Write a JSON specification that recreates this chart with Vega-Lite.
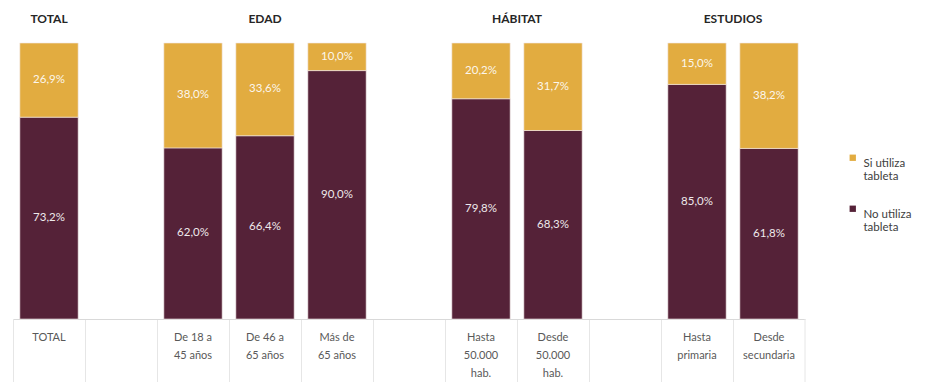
{
  "$schema": "https://vega.github.io/schema/vega-lite/v6.json",
  "width": 792,
  "height": 276,
  "autosize": "none",
  "padding": {"left": 13, "top": 43, "right": 130, "bottom": 63},
  "config": {
    "view": {"stroke": null},
    "font": "Lato"
  },
  "datasets": {
    "bars": [
      {"cat": "TOTAL", "serie": "No utiliza tableta", "pct": 0.732},
      {"cat": "TOTAL", "serie": "Si utiliza tableta", "pct": 0.269},
      {"cat": "De 18 a 45 años", "serie": "No utiliza tableta", "pct": 0.620},
      {"cat": "De 18 a 45 años", "serie": "Si utiliza tableta", "pct": 0.380},
      {"cat": "De 46 a 65 años", "serie": "No utiliza tableta", "pct": 0.664},
      {"cat": "De 46 a 65 años", "serie": "Si utiliza tableta", "pct": 0.336},
      {"cat": "Más de 65 años", "serie": "No utiliza tableta", "pct": 0.900},
      {"cat": "Más de 65 años", "serie": "Si utiliza tableta", "pct": 0.100},
      {"cat": "Hasta 50.000 hab.", "serie": "No utiliza tableta", "pct": 0.798},
      {"cat": "Hasta 50.000 hab.", "serie": "Si utiliza tableta", "pct": 0.202},
      {"cat": "Desde 50.000 hab.", "serie": "No utiliza tableta", "pct": 0.683},
      {"cat": "Desde 50.000 hab.", "serie": "Si utiliza tableta", "pct": 0.317},
      {"cat": "Hasta primaria", "serie": "No utiliza tableta", "pct": 0.850},
      {"cat": "Hasta primaria", "serie": "Si utiliza tableta", "pct": 0.150},
      {"cat": "Desde secundaria", "serie": "No utiliza tableta", "pct": 0.618},
      {"cat": "Desde secundaria", "serie": "Si utiliza tableta", "pct": 0.382}
    ],
    "headers": [
      {"cat": "TOTAL", "header": "TOTAL", "group": "single"},
      {"cat": "De 46 a 65 años", "header": "EDAD", "group": "single"},
      {"cat": "Hasta 50.000 hab.", "header": "HÁBITAT", "group": "pair"},
      {"cat": "Hasta primaria", "header": "ESTUDIOS", "group": "pair"}
    ],
    "edge": [
      {"cat": "Desde secundaria"}
    ]
  },
  "encoding": {
    "x": {
      "field": "cat",
      "type": "nominal",
      "sort": null,
      "scale": {
        "domain": ["TOTAL", "sp1", "De 18 a 45 años", "De 46 a 65 años", "Más de 65 años", "sp2", "Hasta 50.000 hab.", "Desde 50.000 hab.", "sp3", "Hasta primaria", "Desde secundaria"],
        "paddingInner": 0,
        "paddingOuter": 0
      },
      "axis": {
        "title": null,
        "labelAngle": 0,
        "bandPosition": 0,
        "tickSize": 64,
        "labelPadding": -52,
        "labelBaseline": "top",
        "labelAlign": "center",
        "labelFontSize": 11,
        "labelColor": "#595959",
        "labelLineHeight": 18,
        "labelFont": "Lato",
        "domainColor": "#d9d9d9",
        "tickColor": "#e6e6e6",
        "labelExpr": "datum.value == 'De 18 a 45 años' ? ['De 18 a','45 años'] : datum.value == 'De 46 a 65 años' ? ['De 46 a','65 años'] : datum.value == 'Más de 65 años' ? ['Más de','65 años'] : datum.value == 'Hasta 50.000 hab.' ? ['Hasta','50.000','hab.'] : datum.value == 'Desde 50.000 hab.' ? ['Desde','50.000','hab.'] : datum.value == 'Hasta primaria' ? ['Hasta','primaria'] : datum.value == 'Desde secundaria' ? ['Desde','secundaria'] : indexof(datum.value,'sp') == 0 ? '' : datum.value"
      }
    }
  },
  "layer": [
    {
      "data": {"name": "bars"},
      "mark": {"type": "bar", "width": {"band": 0.81}, "stroke": "#f4eaea", "strokeWidth": 0.6},
      "encoding": {
        "y": {"field": "pct", "type": "quantitative", "stack": "normalize", "scale": {"domain": [0, 1]}, "axis": null},
        "order": {"field": "serie", "sort": "ascending"},
        "color": {
          "field": "serie",
          "type": "nominal",
          "scale": {"domain": ["Si utiliza tableta", "No utiliza tableta"], "range": ["#E2AC40", "#552238"]},
          "legend": {
            "title": null,
            "orient": "none",
            "legendX": 834,
            "legendY": 109,
            "symbolType": "square",
            "symbolSize": 40,
            "symbolStrokeWidth": 0,
            "labelFontSize": 11.5,
            "labelColor": "#404040",
            "labelFont": "Lato",
            "labelBaseline": "top",
            "labelOffset": 5,
            "labelLineHeight": 20,
            "rowPadding": 20,
            "labelExpr": "datum.value == 'Si utiliza tableta' ? ['Si utiliza','tableta'] : ['No utiliza','tableta']"
          }
        }
      }
    },
    {
      "data": {"name": "bars"},
      "transform": [
        {"stack": "pct", "groupby": ["cat"], "sort": [{"field": "serie", "order": "ascending"}], "as": ["lo", "hi"], "offset": "normalize"},
        {"calculate": "(datum.lo + datum.hi) / 2", "as": "mid"},
        {"calculate": "replace(format(datum.pct * 100, '.1f'), '.', ',') + '%'", "as": "lbl"}
      ],
      "mark": {"type": "text", "color": "#ffffff", "opacity": 0.9, "fontSize": 11.5, "font": "Lato"},
      "encoding": {
        "y": {"field": "mid", "type": "quantitative"},
        "text": {"field": "lbl"}
      }
    },
    {
      "data": {"name": "edge"},
      "mark": {"type": "rule", "color": "#e6e6e6", "strokeWidth": 1},
      "encoding": {
        "x": {"field": "cat", "type": "nominal", "bandPosition": 1},
        "y": {"datum": 0, "type": "quantitative"},
        "y2": {"datum": -0.232}
      }
    },
    {
      "data": {"name": "headers"},
      "transform": [{"filter": "datum.group == 'single'"}],
      "mark": {"type": "text", "fontWeight": "bold", "fontSize": 12, "color": "#262626", "font": "Lato"},
      "encoding": {
        "y": {"datum": 1.088, "type": "quantitative"},
        "text": {"field": "header"}
      }
    },
    {
      "data": {"name": "headers"},
      "transform": [{"filter": "datum.group == 'pair'"}],
      "mark": {"type": "text", "fontWeight": "bold", "fontSize": 12, "color": "#262626", "font": "Lato", "dx": 36},
      "encoding": {
        "y": {"datum": 1.088, "type": "quantitative"},
        "text": {"field": "header"}
      }
    }
  ]
}
